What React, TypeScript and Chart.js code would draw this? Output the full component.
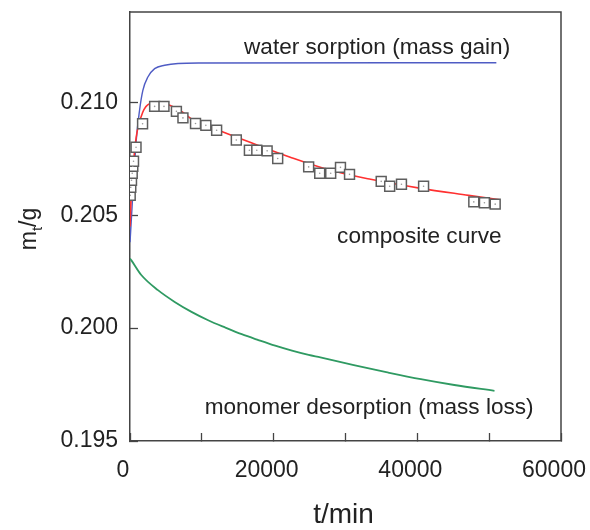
import React, { useEffect, useRef } from 'react';
import { Chart, registerables } from 'chart.js';

Chart.register(...registerables);

// ---- data (t in min, mass in g) ----
const waterT = [0, 870, 1330, 1790, 2490, 3430, 4830, 6690, 9720, 51000];
const waterV = [0.2038, 0.20832, 0.20965, 0.21053, 0.21112, 0.21149, 0.21164, 0.21172, 0.21174, 0.21175];

const compositeT = [0, 140, 490, 870, 1790, 2730, 4130, 5520, 6920, 9020, 11960, 16710, 22310, 27900, 33500, 40490, 47130, 51500];
const compositeV = [0.2045, 0.20566, 0.2073, 0.20847, 0.20957, 0.20994, 0.21, 0.20987, 0.20965, 0.20916, 0.20881, 0.20823, 0.20757, 0.20699, 0.20659, 0.20619, 0.20588, 0.20568];

const measuredT = [30, 110, 210, 310, 390, 490, 840, 1750, 3430, 4730, 6460, 7370, 9120, 10560, 12060, 14800, 16620, 17650, 19090, 20560, 24870, 26410, 27940, 29300, 30560, 34970, 36150, 37790, 40870, 47860, 49340, 50840];
const measuredV = [0.20588, 0.20624, 0.20655, 0.20686, 0.20717, 0.20739, 0.20801, 0.20905, 0.20982, 0.20982, 0.2096, 0.20931, 0.20906, 0.20898, 0.20876, 0.20833, 0.20788, 0.20788, 0.20785, 0.20751, 0.20714, 0.20686, 0.20686, 0.20712, 0.20681, 0.2065, 0.20628, 0.20637, 0.20628, 0.20559, 0.20555, 0.20549];

const monomerT = [0, 170, 1570, 3890, 6220, 8560, 10880, 13220, 15550, 17870, 20210, 22550, 24870, 26500, 31160, 35830, 40490, 45150, 50740];
const monomerV = [0.20308, 0.20301, 0.20235, 0.20168, 0.20116, 0.20072, 0.20035, 0.20003, 0.19973, 0.19947, 0.19922, 0.199, 0.19881, 0.1987, 0.19836, 0.19804, 0.19774, 0.19748, 0.19722];

const xTicks = [0, 10000, 20000, 30000, 40000, 50000, 60000];
const xLabeled = [0, 20000, 40000, 60000];
const yTicks = [0.195, 0.2, 0.205, 0.21];

const annotationTexts = ['water sorption (mass gain)', 'composite curve', 'monomer desorption (mass loss)'];
const annotationAt = [
  { t: 34400, v: 0.21243 },
  { t: 40280, v: 0.20403 },
  { t: 33290, v: 0.19646 },
];

const FONT = '"Liberation Sans", Arial, Helvetica, sans-serif';
const AXIS = '#444';
const TEXT = '#222';

const pts = (ts: number[], vs: number[]) => ts.map((t, i) => ({ x: t, y: vs[i] }));

const zeroPad = (s: any) => {
  s.paddingTop = 0;
  s.paddingBottom = 0;
  s.paddingLeft = 0;
  s.paddingRight = 0;
};

const framePlugin = {
  id: 'frameAndText',
  afterDraw(chart: any) {
    const { ctx, chartArea, scales } = chart;
    const { left, right, top, bottom } = chartArea;
    const xs = scales.x;
    const ys = scales.y;
    ctx.save();
    ctx.strokeStyle = AXIS;
    ctx.lineWidth = 1.5;
    ctx.beginPath();
    ctx.moveTo(left, top);
    ctx.lineTo(right, top);
    ctx.lineTo(right, bottom);
    ctx.stroke();

    ctx.fillStyle = TEXT;
    ctx.font = `22.6px ${FONT}`;
    ctx.textAlign = 'center';
    ctx.textBaseline = 'middle';
    annotationTexts.forEach((txt, i) => {
      ctx.fillText(txt, xs.getPixelForValue(annotationAt[i].t), ys.getPixelForValue(annotationAt[i].v));
    });

    // x axis title
    ctx.font = `28px ${FONT}`;
    ctx.textBaseline = 'alphabetic';
    ctx.fillText('t/min', (left + right) / 2 - 2, 523);

    // y axis title with subscript
    ctx.translate(36, 229);
    ctx.rotate(-Math.PI / 2);
    ctx.textAlign = 'left';
    const big = `23px ${FONT}`;
    const small = `15px ${FONT}`;
    ctx.font = big;
    const wm = ctx.measureText('m').width;
    const wg = ctx.measureText('/g').width;
    ctx.font = small;
    const wt = ctx.measureText('t').width;
    const start = -(wm + wt + wg) / 2;
    ctx.font = big;
    ctx.fillText('m', start, 0);
    ctx.font = small;
    ctx.fillText('t', start + wm, 6);
    ctx.font = big;
    ctx.fillText('/g', start + wm + wt, 0);
    ctx.restore();
  },
};

export default function App() {
  const ref = useRef<HTMLCanvasElement | null>(null);
  useEffect(() => {
    document.body.style.margin = '0';
    const canvas = ref.current;
    if (!canvas) return;
    const chart = new Chart(canvas, {
      type: 'scatter',
      data: {
        datasets: [
          {
            label: 'dots',
            data: pts(measuredT, measuredV),
            showLine: false,
            pointStyle: 'circle',
            pointRadius: 0.8,
            pointBorderWidth: 0,
            pointBackgroundColor: '#999',
            order: 0,
          },
          {
            label: 'measured',
            data: pts(measuredT, measuredV),
            showLine: false,
            pointStyle: 'rect',
            pointRadius: 7,
            pointBorderWidth: 1.5,
            pointBorderColor: '#5e5e5e',
            pointBackgroundColor: '#ffffff',
            order: 1,
          },
          {
            label: 'composite',
            data: pts(compositeT, compositeV),
            showLine: true,
            borderColor: '#ff3030',
            borderWidth: 1.6,
            pointRadius: 0,
            cubicInterpolationMode: 'monotone',
            order: 2,
          },
          {
            label: 'water',
            data: pts(waterT, waterV),
            showLine: true,
            borderColor: '#4f5cc4',
            borderWidth: 1.4,
            pointRadius: 0,
            cubicInterpolationMode: 'monotone',
            order: 3,
          },
          {
            label: 'monomer',
            data: pts(monomerT, monomerV),
            showLine: true,
            borderColor: '#2f9a62',
            borderWidth: 1.8,
            pointRadius: 0,
            cubicInterpolationMode: 'monotone',
            order: 4,
          },
        ],
      },
      options: {
        animation: false,
        responsive: false,
        layout: { padding: { left: 0, top: 12, right: 29, bottom: 0 } },
        plugins: { legend: { display: false }, tooltip: { enabled: false } },
        scales: {
          x: {
            type: 'linear',
            min: 0,
            max: 60000,
            afterBuildTicks: (s: any) => {
              s.ticks = xTicks.map((v) => ({ value: v }));
            },
            afterFit: (s: any) => {
              s.height = 89;
              zeroPad(s);
            },
            border: { display: true, color: AXIS, width: 1.5 },
            grid: { drawOnChartArea: false, drawTicks: true, tickLength: -8, tickColor: AXIS, tickWidth: 1.3 },
            ticks: {
              padding: 24,
              labelOffset: -7,
              maxRotation: 0,
              autoSkip: false,
              color: TEXT,
              font: { family: FONT, size: 23 },
              callback: (v: any) => (xLabeled.includes(Number(v)) ? String(v) : ''),
            },
          },
          y: {
            type: 'linear',
            min: 0.195,
            max: 0.214,
            afterBuildTicks: (s: any) => {
              s.ticks = yTicks.map((v) => ({ value: v }));
            },
            afterFit: (s: any) => {
              s.width = 130;
              zeroPad(s);
            },
            border: { display: true, color: AXIS, width: 1.5 },
            grid: { drawOnChartArea: false, drawTicks: true, tickLength: -8, tickColor: AXIS, tickWidth: 1.3 },
            ticks: {
              padding: 20,
              autoSkip: false,
              color: TEXT,
              font: { family: FONT, size: 23 },
              callback: (v: any) => Number(v).toFixed(3),
            },
          },
        },
      },
      plugins: [framePlugin],
    } as any);
    return () => chart.destroy();
  }, []);
  return <canvas ref={ref} width={590} height={530} style={{ display: 'block' }} />;
}
